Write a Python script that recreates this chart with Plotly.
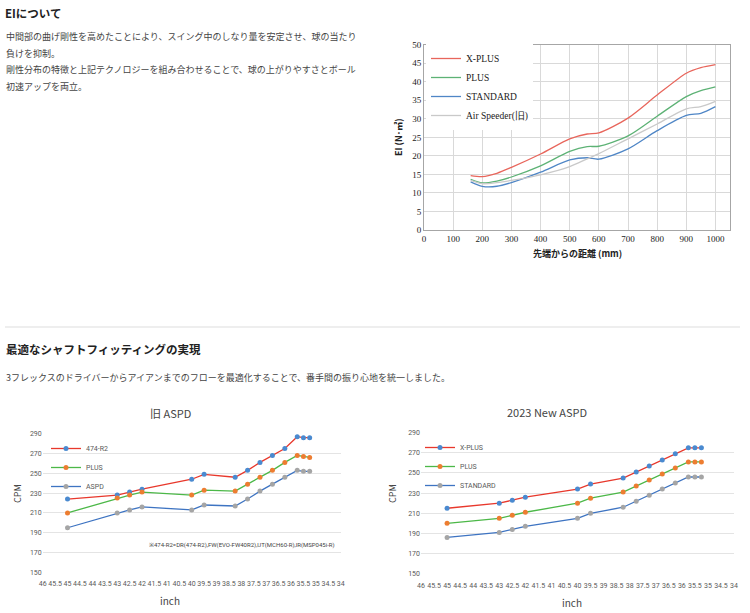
import plotly.graph_objects as go

W, H = 750, 613
def px(x): return x / W
def py(y): return 1 - y / H

JP = "Noto Sans CJK JP"
SERIF = "Liberation Serif"
NARROW = "Liberation Sans Narrow, Arial Narrow, Roboto, sans-serif"

# ---------------- EI chart data ----------------
ei_dist = [160, 200, 250, 300, 400, 500, 560, 600, 700, 800, 900, 950, 1000]
ei_xplus = [14.7, 14.4, 15.3, 16.9, 20.5, 24.6, 25.9, 26.2, 30.2, 36.4, 42.3, 43.8, 44.6]
ei_plus = [13.7, 12.7, 13.2, 14.3, 17.3, 21.2, 22.5, 22.6, 25.4, 30.7, 36.0, 37.6, 38.6]
ei_standard = [13.0, 11.8, 11.8, 12.8, 15.6, 18.9, 19.5, 19.1, 21.9, 26.8, 30.9, 31.5, 33.3]
ei_airspeeder = [13.4, 12.5, 12.8, 13.4, 14.9, 17.1, 19.2, 20.6, 24.6, 28.6, 32.7, 33.3, 34.7]

# ---------------- CPM charts data ----------------
inch = [45, 43, 42.5, 42, 40, 39.5, 38.25, 37.75, 37.25, 36.75, 36.25, 35.75, 35.5, 35.25]
old_474r2 = [224, 228, 231, 234, 244, 249, 246, 253, 261, 268, 275, 287, 286, 286]
old_plus = [210, 225, 228, 231, 228, 233, 232, 239, 246, 253, 261, 268, 267, 266]
old_aspd = [195, 210, 213, 216, 213, 218, 217, 224, 232, 239, 246, 253, 252, 252]
new_xplus = [215, 220, 223, 226, 234, 239, 245, 251, 257, 263, 269, 275, 275, 275]
new_plus = [200, 205, 208, 211, 220, 225, 231, 237, 243, 249, 255, 261, 261, 261]
new_standard = [186, 191, 194, 197, 205, 210, 216, 222, 228, 234, 240, 246, 246, 246]
inch_ticks = [46 - 0.5 * i for i in range(25)]
inch_labels = [("%g" % v) for v in inch_ticks]

fig = go.Figure()

ei_series = [
    ("X-PLUS", ei_xplus, "#E8665C"),
    ("PLUS", ei_plus, "#5DB275"),
    ("STANDARD", ei_standard, "#4F86C6"),
    ("Air Speeder(旧)", ei_airspeeder, "#C9C9C9"),
]
for name, vals, col in ei_series:
    fig.add_trace(go.Scatter(x=ei_dist, y=vals, name=name, mode="lines",
                             line=dict(color=col, width=1.3, shape="spline", smoothing=0.8),
                             xaxis="x", yaxis="y", legend="legend", hoverinfo="skip"))

old_series = [
    ("474-R2", old_474r2, "#E8382C", "#4A8AD0"),
    ("PLUS", old_plus, "#4CB848", "#ED7D31"),
    ("ASPD", old_aspd, "#3E74C2", "#A5A5A5"),
]
for name, vals, lc, mc in old_series:
    fig.add_trace(go.Scatter(x=inch, y=vals, name=name, mode="lines+markers",
                             line=dict(color=lc, width=1.3),
                             marker=dict(color=mc, size=5),
                             xaxis="x2", yaxis="y2", legend="legend2", hoverinfo="skip"))

new_series = [
    ("X-PLUS", new_xplus, "#E8382C", "#4A8AD0"),
    ("PLUS", new_plus, "#4CB848", "#ED7D31"),
    ("STANDARD", new_standard, "#3E74C2", "#A5A5A5"),
]
for name, vals, lc, mc in new_series:
    fig.add_trace(go.Scatter(x=inch, y=vals, name=name, mode="lines+markers",
                             line=dict(color=lc, width=1.3),
                             marker=dict(color=mc, size=5),
                             xaxis="x3", yaxis="y3", legend="legend3", hoverinfo="skip"))

grid = "#D9D9D9"
tickfont_small = dict(family=NARROW, size=7, color="#595959")

fig.update_layout(
    width=W, height=H, autosize=False,
    margin=dict(l=0, r=0, t=0, b=0, autoexpand=False),
    paper_bgcolor="white", plot_bgcolor="white",
    showlegend=True,
    font=dict(family=JP, color="#333"),
    xaxis=dict(domain=[px(424), px(730)], range=[0, 1050], dtick=100, tick0=0,
               showgrid=True, gridcolor=grid, gridwidth=1, zeroline=False,
               showline=True, linecolor="#A6A6A6", mirror=True, ticks="",
               tickfont=dict(family=SERIF, size=9, color="#222"), anchor="y", automargin=False),
    yaxis=dict(domain=[py(230), py(44.7)], range=[0, 50], dtick=5, tick0=0,
               showgrid=True, gridcolor=grid, gridwidth=1, zeroline=False,
               showline=True, linecolor="#A6A6A6", mirror=True, ticks="",
               tickfont=dict(family=SERIF, size=9, color="#222"), anchor="x", automargin=False),
    xaxis2=dict(domain=[px(42.7), px(340.7)], range=[46, 34], tickvals=inch_ticks, ticktext=inch_labels,
                showgrid=False, zeroline=False, showline=False, ticks="", tickangle=0,
                ticklabelstandoff=6, tickfont=tickfont_small, anchor="y2", automargin=False),
    yaxis2=dict(domain=[py(572.3), py(433.7)], range=[150, 290], dtick=20, tick0=150,
                showgrid=True, gridcolor="#E4E4E4", zeroline=False, showline=False, ticks="",
                tickfont=tickfont_small, anchor="x2", automargin=False),
    xaxis3=dict(domain=[px(421), px(734)], range=[46, 34], tickvals=inch_ticks, ticktext=inch_labels,
                showgrid=False, zeroline=False, showline=False, ticks="", tickangle=0,
                ticklabelstandoff=6, tickfont=tickfont_small, anchor="y3", automargin=False),
    yaxis3=dict(domain=[py(573.7), py(432.7)], range=[150, 290], dtick=20, tick0=150,
                showgrid=True, gridcolor="#E4E4E4", zeroline=False, showline=False, ticks="",
                tickfont=tickfont_small, anchor="x3", automargin=False),
    legend=dict(x=px(426), y=py(44), xanchor="left", yanchor="top",
                bgcolor="white", borderwidth=0, tracegroupgap=0,
                font=dict(family=SERIF, size=9.5, color="#222"), itemwidth=30),
    legend2=dict(x=px(46), y=py(434), xanchor="left", yanchor="top",
                 bgcolor="rgba(0,0,0,0)", borderwidth=0,
                 font=dict(family=NARROW, size=7, color="#595959"), itemwidth=30),
    legend3=dict(x=px(420), y=py(433), xanchor="left", yanchor="top",
                 bgcolor="rgba(0,0,0,0)", borderwidth=0,
                 font=dict(family=NARROW, size=7, color="#595959"), itemwidth=30),
)

ann = []
def txt(x, y, text, size, color="#333", bold=False, xanchor="left", family=JP, angle=0):
    t = "<b>%s</b>" % text if bold else text
    ann.append(dict(x=px(x), y=py(y), xref="paper", yref="paper", text=t, showarrow=False,
                    xanchor=xanchor, yanchor="middle", textangle=angle, borderpad=0,
                    font=dict(family=family, size=size, color=color)))

txt(4, 13, "EIについて", 11.5, "#222", bold=True)
para = ["中間部の曲げ剛性を高めたことにより、スイング中のしなり量を安定させ、球の当たり",
        "負けを抑制。",
        "剛性分布の特徴と上記テクノロジーを組み合わせることで、球の上がりやすさとボール",
        "初速アップを両立。"]
for i, line in enumerate(para):
    txt(5, 37 + i * 16.5, line, 9, "#444")

txt(577, 253, "先端からの距離 (mm)", 9, "#222", bold=True, xanchor="center")
txt(398, 137, "EI (N･㎡)", 9, "#222", bold=True, xanchor="center", angle=-90)

txt(5, 349, "最適なシャフトフィッティングの実現", 11.5, "#222", bold=True)
txt(5, 378, "3フレックスのドライバーからアイアンまでのフローを最適化することで、番手間の振り心地を統一しました。", 9, "#444")

txt(170, 413, "旧 ASPD", 11, "#444", xanchor="center")
txt(547, 412, "2023 New ASPD", 11, "#444", xanchor="center")
txt(170, 600, "inch", 10, "#444", xanchor="center")
txt(572, 602, "inch", 10, "#444", xanchor="center")
txt(18, 494, "CPM", 9, "#444", xanchor="center", angle=-90)
txt(393, 494, "CPM", 9, "#444", xanchor="center", angle=-90)
txt(148, 545, "※474-R2=DR(474-R2),FW(EVO-FW40R2),UT(MCH60-R),IR(MSP045i-R)", 6, "#444", family=NARROW)

fig.update_layout(annotations=ann)
fig.add_shape(type="line", xref="paper", yref="paper", x0=px(5), x1=px(740), y0=py(327), y1=py(327),
              line=dict(color="#DDDDDD", width=1))

fig.write_html("out.html", config={"displayModeBar": False},
               post_script="document.body.style.margin='0';document.body.style.overflow='hidden';")
